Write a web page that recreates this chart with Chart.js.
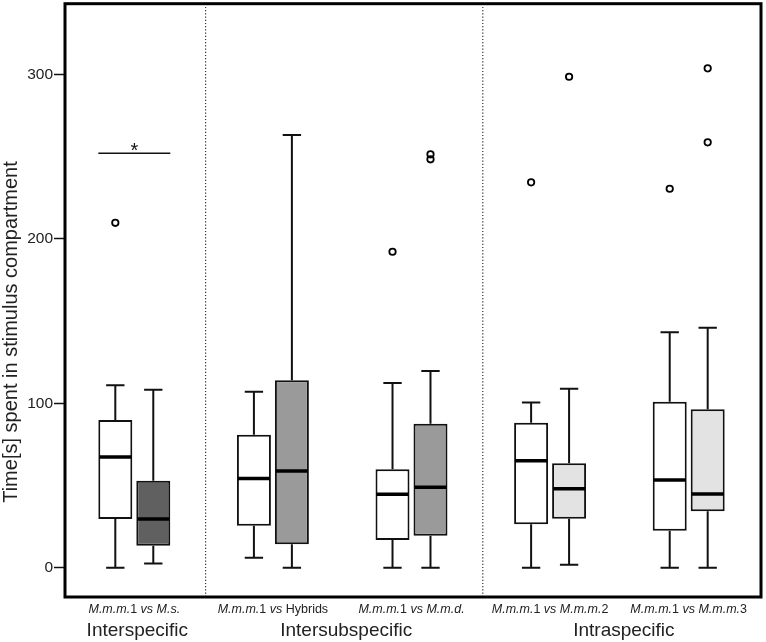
<!DOCTYPE html>
<html><head><meta charset="utf-8">
<script src="https://cdn.jsdelivr.net/npm/chart.js@4/dist/chart.umd.min.js"></script>
<style>html,body{margin:0;padding:0;background:#fff}canvas{display:block}</style>
</head><body>
<canvas id="c" width="766" height="642"></canvas>
<script>
// ---- data ----
const categories = ['M.m.m.1 vs M.s.', 'M.m.m.1 vs Hybrids', 'M.m.m.1 vs M.m.d.', 'M.m.m.1 vs M.m.m.2', 'M.m.m.1 vs M.m.m.3'];
// label pieces: [text, italic]
const labelPieces = [
  [['M.m.m.', true], ['1', false], [' vs ', true], ['M.s.', true]],
  [['M.m.m.', true], ['1', false], [' vs ', true], ['Hybrids', false]],
  [['M.m.m.', true], ['1', false], [' vs ', true], ['M.m.d.', true]],
  [['M.m.m.', true], ['1', false], [' vs ', true], ['M.m.m.', true], ['2', false]],
  [['M.m.m.', true], ['1', false], [' vs ', true], ['M.m.m.', true], ['3', false]]
];
const groupNames = ['Interspecific', 'Intersubspecific', 'Intraspecific'];
const groupFirst = [0, 1, 3];
const groupLast = [0, 2, 4];
const yTicks = [0, 100, 200, 300];
const yTitle = 'Time[s] spent in stimulus compartment';

// M.m.m.1 (white boxes)
const refMin = [0, 6.1, 0, 0, 0];
const refQ1 = [29.6, 25.5, 16.8, 26.4, 22.5];
const refMedian = [67.3, 54.3, 44.6, 65.0, 53.3];
const refQ3 = [89.8, 80.9, 59.8, 88.2, 100.9];
const refMax = [111, 107, 112.3, 100.5, 143.1];
const refOutliers = [[209.7], [], [192.1], [234.3], [230.4]];

// stimulus animals (grey boxes)
const stimMin = [2.6, 0, 0, 1.8, 0];
const stimQ1 = [13.4, 14.2, 19.5, 29.8, 34.3];
const stimMedian = [29.6, 58.8, 48.9, 48.0, 44.8];
const stimQ3 = [52.9, 113.9, 87.5, 63.5, 96.3];
const stimMax = [108.2, 263, 119.6, 108.8, 145.9];
const stimOutliers = [[], [], [251.3, 248.3], [298.5], [303.6, 258.6]];

const sigValue = 252;
const sigText = '*';

// ---- styles ----
const stimColors = ['#606060', '#9a9a9a', '#9a9a9a', '#e3e3e3', '#e3e3e3'];
const FONT = '"Liberation Sans", Arial, sans-serif';
const LINE = '#111';

const stats = [
  {min: refMin, q1: refQ1, med: refMedian, q3: refQ3, max: refMax, out: refOutliers},
  {min: stimMin, q1: stimQ1, med: stimMedian, q3: stimQ3, max: stimMax, out: stimOutliers}
];

const boxPlugin = {
  id: 'boxplot',
  beforeDatasetsDraw(chart) {
    const ctx = chart.ctx, y = chart.scales.y;
    ctx.save();
    ctx.strokeStyle = LINE;
    ctx.lineWidth = 2;
    stats.forEach((s, di) => {
      chart.getDatasetMeta(di).data.forEach((bar, i) => {
        const x = bar.x, cap = bar.width * 0.27;
        const yMax = y.getPixelForValue(s.max[i]), yQ3 = y.getPixelForValue(s.q3[i]);
        const yMin = y.getPixelForValue(s.min[i]), yQ1 = y.getPixelForValue(s.q1[i]);
        ctx.beginPath();
        ctx.moveTo(x, yQ3); ctx.lineTo(x, yMax);
        ctx.moveTo(x - cap, yMax); ctx.lineTo(x + cap, yMax);
        ctx.moveTo(x, yQ1); ctx.lineTo(x, yMin);
        ctx.moveTo(x - cap, yMin); ctx.lineTo(x + cap, yMin);
        ctx.stroke();
      });
    });
    ctx.restore();
  },
  afterDatasetsDraw(chart) {
    const ctx = chart.ctx, y = chart.scales.y, xs = chart.scales.x;
    const area = chart.chartArea;
    ctx.save();
    // medians and outliers
    stats.forEach((s, di) => {
      chart.getDatasetMeta(di).data.forEach((bar, i) => {
        const x = bar.x, hw = bar.width / 2;
        const ym = y.getPixelForValue(s.med[i]);
        ctx.strokeStyle = '#000';
        ctx.lineWidth = 3.5;
        ctx.beginPath();
        ctx.moveTo(x - hw + 1, ym); ctx.lineTo(x + hw - 1, ym);
        ctx.stroke();
        ctx.lineWidth = 1.8;
        s.out[i].forEach(v => {
          ctx.beginPath();
          ctx.arc(x, y.getPixelForValue(v), 3.2, 0, Math.PI * 2);
          ctx.stroke();
        });
      });
    });
    // significance bar
    const b0 = chart.getDatasetMeta(0).data[0], b1 = chart.getDatasetMeta(1).data[0];
    const ys = y.getPixelForValue(sigValue);
    ctx.strokeStyle = '#111';
    ctx.lineWidth = 1.6;
    ctx.beginPath();
    ctx.moveTo(b0.x - b0.width / 2, ys); ctx.lineTo(b1.x + b1.width / 2, ys);
    ctx.stroke();
    ctx.fillStyle = '#111';
    ctx.font = '20px ' + FONT;
    ctx.textAlign = 'center';
    ctx.textBaseline = 'alphabetic';
    ctx.fillText(sigText, (b0.x + b1.x) / 2, ys + 4);

    // dotted dividers between groups
    const rightEdge = area.right + 3;
    const dividers = [];
    for (let g = 0; g < groupNames.length - 1; g++) {
      dividers.push((xs.getPixelForValue(groupLast[g]) + xs.getPixelForValue(groupFirst[g + 1])) / 2 + 2);
    }
    ctx.strokeStyle = '#333';
    ctx.lineWidth = 1.2;
    ctx.setLineDash([1.2, 2]);
    dividers.forEach(dx => {
      ctx.beginPath();
      ctx.moveTo(dx, area.top); ctx.lineTo(dx, area.bottom);
      ctx.stroke();
    });
    ctx.setLineDash([]);

    // frame
    ctx.strokeStyle = '#000';
    ctx.lineWidth = 3;
    ctx.strokeRect(area.left, area.top, rightEdge - area.left, area.bottom - area.top);

    // x category labels (mixed italic)
    ctx.fillStyle = '#222';
    ctx.textBaseline = 'alphabetic';
    ctx.textAlign = 'left';
    labelPieces.forEach((pieces, i) => {
      let total = 0;
      const widths = pieces.map(([t, it]) => {
        ctx.font = (it ? 'italic ' : '') + '12.5px ' + FONT;
        const w = ctx.measureText(t).width; total += w; return w;
      });
      let x = xs.getPixelForValue(i) - total / 2;
      pieces.forEach(([t, it], k) => {
        ctx.font = (it ? 'italic ' : '') + '12.5px ' + FONT;
        ctx.fillText(t, x, 613);
        x += widths[k];
      });
    });

    // group labels
    const bounds = [area.left, ...dividers, rightEdge];
    ctx.font = '19px ' + FONT;
    ctx.textAlign = 'center';
    groupNames.forEach((g, k) => {
      ctx.fillText(g, (bounds[k] + bounds[k + 1]) / 2 + 2, 636);
    });

    // y title
    ctx.save();
    ctx.translate(11, 332);
    ctx.rotate(-Math.PI / 2);
    ctx.font = '20px ' + FONT;
    ctx.textAlign = 'center';
    ctx.textBaseline = 'middle';
    ctx.fillText(yTitle, 0, 0);
    ctx.restore();
    ctx.restore();
  }
};

new Chart(document.getElementById('c'), {
  type: 'bar',
  data: {
    labels: categories,
    datasets: [
      {
        label: 'M.m.m.1',
        data: refQ1.map((q, i) => [q, refQ3[i]]),
        backgroundColor: '#ffffff',
        borderColor: LINE,
        borderWidth: 2,
        borderSkipped: false,
        categoryPercentage: 0.548,
        barPercentage: 0.895
      },
      {
        label: 'Stimulus',
        data: stimQ1.map((q, i) => [q, stimQ3[i]]),
        backgroundColor: stimColors,
        borderColor: LINE,
        borderWidth: 2,
        borderSkipped: false,
        categoryPercentage: 0.548,
        barPercentage: 0.895
      }
    ]
  },
  options: {
    responsive: false,
    animation: false,
    events: [],
    layout: {padding: {top: 3.7, right: 8, bottom: 0, left: 0}},
    plugins: {legend: {display: false}, tooltip: {enabled: false}},
    scales: {
      x: {
        ticks: {display: false},
        grid: {display: false},
        border: {display: false},
        afterFit(s) { s.height = 45; s.paddingLeft = 0; s.paddingRight = 0; }
      },
      y: {
        min: -17.8,
        max: 342.9,
        afterBuildTicks(axis) { axis.ticks = yTicks.map(v => ({value: v})); },
        ticks: {font: {size: 15.5, family: FONT}, color: '#222', padding: 1},
        grid: {display: true, drawOnChartArea: false, drawTicks: true, tickLength: 11, tickColor: '#111', tickWidth: 1.5},
        border: {display: false},
        afterFit(s) { s.width = 65; s.paddingTop = 0; s.paddingBottom = 0; }
      }
    }
  },
  plugins: [boxPlugin]
});
</script>
</body></html>
